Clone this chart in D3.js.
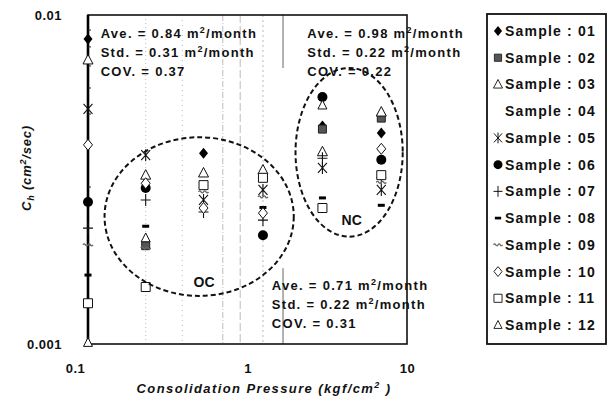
<!DOCTYPE html>
<html>
<head>
<meta charset="utf-8">
<script src="https://cdn.jsdelivr.net/npm/d3@7"></script>
<style>
  body { margin: 0; background: #fff; }
  svg text { font-family: "Liberation Sans", Arial, sans-serif; font-weight: bold; fill: #111; }
</style>
</head>
<body>
<div class="chart"></div>
<script>
// data
var pressures = [0.1, 0.23, 0.53, 1.25, 2.95, 6.9];
var sampleNames = ["01", "02", "03", "04", "05", "06", "07", "08", "09", "10", "11", "12"];
var markerTypes = ["diamondFill", "hatchSquare", "triangle", "none", "asterisk", "circleFill",
                   "plus", "dash", "wave", "diamond", "square", "triangleSmall"];
var s01 = [0.00845, null, 0.0038, null, 0.0046, 0.00438];
var s02 = [null, 0.00199, null, null, 0.0045, 0.00486];
var s03 = [0.0073, 0.00326, 0.00331, 0.00338, 0.00384, 0.00507];
var s04 = [null, null, null, null, null, null];
var s05 = [0.00518, 0.00375, 0.00274, 0.00294, 0.00343, 0.00294];
var s06 = [0.0027, 0.00298, null, 0.00214, 0.00563, 0.00363];
var s07 = [0.00225, 0.00274, 0.00252, 0.00238, 0.00367, 0.0032];
var s08 = [0.00162, 0.00228, null, 0.0026, 0.00278, 0.00264];
var s09 = [0.002, 0.00196, 0.0029, 0.0028, null, 0.0031];
var s10 = [0.00403, 0.00308, 0.00259, 0.0025, null, 0.00392];
var s11 = [0.00133, 0.00149, 0.00304, 0.0032, 0.00259, 0.00326];
var s12 = [0.00101, 0.0021, null, null, 0.00532, null];
var series = [s01, s02, s03, s04, s05, s06, s07, s08, s09, s10, s11, s12];

var xTicks = [0.1, 1, 10];
var yTicks = [0.001, 0.01];

// faint vertical lines of the scanned figure
var guideLines = [0.23, 0.39, 0.70, 0.90, 1.25];

// cluster outlines (data units)
var ocBox = {x0: 0.127, x1: 1.95, y0: 0.0014, y1: 0.00425};
var ncBox = {x0: 2.0, x1: 9.4, y0: 0.00212, y1: 0.0069};

var notes = [
  {x: 0.12, y: 0.00851, lines: [["Ave. = 0.84 ", "/month"], ["Std. = 0.31 ", "/month"], ["COV. = 0.37"]]},
  {x: 2.37, y: 0.00851, lines: [["Ave. = 0.98 ", "/month"], ["Std. = 0.22 ", "/month"], ["COV. = 0.22"]]},
  {x: 1.42, y: 0.00146, lines: [["Ave. = 0.71 ", "/month"], ["Std. = 0.22 ", "/month"], ["COV. = 0.31"]]}
];

var width = 612, height = 401;
var svg = d3.select("div.chart").append("svg")
    .attr("width", width)
    .attr("height", height);

var x = d3.scaleLog().domain([0.1, 10]).range([88, 407]);
var y = d3.scaleLog().domain([0.001, 0.01]).range([344, 15]);

// guide lines
svg.selectAll("line.guide")
    .data(guideLines)
    .enter().append("line")
    .attr("class", "guide")
    .attr("x1", function (d) { return x(d); })
    .attr("x2", function (d) { return x(d); })
    .attr("y1", y(0.01))
    .attr("y2", y(0.001))
    .style("stroke", "#aaa")
    .style("stroke-width", 0.8)
    .style("stroke-dasharray", function (d, i) { return ["1,3", "1,4", "6,2,1,2", "8,3", "2,3"][i]; });

// partial solid line near 1.67
[[0.01, 0.0069], [0.0017, 0.001]].forEach(function (seg) {
    svg.append("line")
        .attr("x1", x(1.67)).attr("x2", x(1.67))
        .attr("y1", y(seg[0])).attr("y2", y(seg[1]))
        .style("stroke", "#555").style("stroke-width", 0.9);
});

// frame
svg.append("rect")
    .attr("x", x(0.1)).attr("y", y(0.01))
    .attr("width", x(10) - x(0.1)).attr("height", y(0.001) - y(0.01))
    .style("fill", "none").style("stroke", "#111").style("stroke-width", 1.6);
svg.append("line")
    .attr("x1", x(0.1)).attr("x2", x(0.1))
    .attr("y1", y(0.01)).attr("y2", y(0.001))
    .style("stroke", "#000").style("stroke-width", 2.6);

// axes (labels only, like the figure)
var xAxis = svg.append("g")
    .attr("transform", "translate(0," + (y(0.001) + 17) + ")")
    .call(d3.axisBottom(x).tickValues(xTicks).tickSize(0).tickFormat(d3.format("")));
xAxis.select(".domain").remove();
xAxis.selectAll("text")
    .attr("dx", function (d) { return d === 0.1 ? -13 : 0; })
    .style("font-size", "13px").style("letter-spacing", "0.5px")
    .style("font-family", "Liberation Sans, Arial, sans-serif").style("font-weight", "bold");

var yAxis = svg.append("g")
    .attr("transform", "translate(" + (x(0.1) - 26) + ",0)")
    .call(d3.axisLeft(y).tickValues(yTicks).tickSize(0).tickFormat(function (d) { return String(d); }));
yAxis.select(".domain").remove();
yAxis.selectAll("text")
    .attr("x", 0)
    .style("font-size", "13px").style("letter-spacing", "0.5px")
    .style("font-family", "Liberation Sans, Arial, sans-serif").style("font-weight", "bold");

// small inner ticks on left axis
svg.selectAll("line.ytick")
    .data([0.002, 0.003, 0.004, 0.005, 0.006, 0.007, 0.008, 0.009])
    .enter().append("line")
    .attr("x1", x(0.1)).attr("x2", x(0.1) + 3)
    .attr("y1", function (d) { return y(d); }).attr("y2", function (d) { return y(d); })
    .style("stroke", "#222").style("stroke-width", 1);

// axis titles
var xt = svg.append("text")
    .attr("x", 264).attr("y", 393)
    .attr("text-anchor", "middle")
    .style("font-size", "13px").style("font-style", "italic").style("letter-spacing", "1.4px");
xt.append("tspan").text("Consolidation Pressure (kgf/cm");
xt.append("tspan").attr("dy", -5).style("font-size", "9px").text("2");
xt.append("tspan").attr("dy", 5).text(" )");

var yt = svg.append("text")
    .attr("transform", "translate(31,168) rotate(-90)")
    .attr("text-anchor", "middle")
    .style("font-size", "13px").style("font-style", "italic").style("letter-spacing", "0.8px");
yt.append("tspan").text("C");
yt.append("tspan").attr("dy", 3).style("font-size", "9px").text("h");
yt.append("tspan").attr("dy", -3).text("  (cm");
yt.append("tspan").attr("dy", -5).style("font-size", "9px").text("2");
yt.append("tspan").attr("dy", 5).text("/sec)");

// markers
function markerPath(type) {
    switch (type) {
        case "diamondFill":
        case "diamond": return "M0,-5.5L4.5,0L0,5.5L-4.5,0Z";
        case "hatchSquare": return "M-4,-4H4V4H-4Z";
        case "square": return "M-4.5,-4.5H4.5V4.5H-4.5Z";
        case "triangle": return "M0,-5.5L5,4L-5,4Z";
        case "triangleSmall": return "M0,-5L4.5,3.8L-4.5,3.8Z";
        case "asterisk": return "M-4.5,-5L4.5,5M4.5,-5L-4.5,5M0,-6V6";
        case "plus": return "M-5,0H5M0,-6V6";
        case "wave": return "M-5,0q1.25,-2 2.5,0t2.5,0t2.5,0t2.5,0";
        default: return "";
    }
}

function drawMarker(g, type) {
    if (type === "none") return;
    if (type === "circleFill") {
        g.append("circle").attr("r", 5).style("fill", "#000");
        return;
    }
    if (type === "dash") {
        g.append("rect").attr("x", -3.5).attr("y", -1.5).attr("width", 7).attr("height", 3).style("fill", "#000");
        return;
    }
    var p = g.append("path").attr("d", markerPath(type));
    if (type === "diamondFill") p.style("fill", "#000");
    else if (type === "hatchSquare") p.style("fill", "#555").style("stroke", "#222").style("stroke-width", 1);
    else if (type === "asterisk" || type === "plus") p.style("fill", "none").style("stroke", "#111").style("stroke-width", 1.1);
    else if (type === "wave") p.style("fill", "none").style("stroke", "#666").style("stroke-width", 1.3);
    else p.style("fill", "#fff").style("stroke", "#111").style("stroke-width", 1);
}

var points = [];
series.forEach(function (vals, si) {
    vals.forEach(function (v, pi) {
        if (v !== null) points.push({s: si, p: pressures[pi], v: v});
    });
});

var pts = svg.selectAll("g.pt")
    .data(points)
    .enter().append("g")
    .attr("class", "pt")
    .attr("transform", function (d) { return "translate(" + x(d.p) + "," + y(d.v) + ")"; });
pts.each(function (d) { drawMarker(d3.select(this), markerTypes[d.s]); });

// cluster ellipses
[ocBox, ncBox].forEach(function (b) {
    svg.append("ellipse")
        .attr("cx", (x(b.x0) + x(b.x1)) / 2)
        .attr("cy", (y(b.y0) + y(b.y1)) / 2)
        .attr("rx", (x(b.x1) - x(b.x0)) / 2)
        .attr("ry", (y(b.y0) - y(b.y1)) / 2)
        .style("fill", "none").style("stroke", "#111")
        .style("stroke-width", 2).style("stroke-dasharray", "5,3");
});

svg.append("text").attr("x", x(0.534)).attr("y", y(0.00149))
    .attr("text-anchor", "middle").style("font-size", "14px").text("OC");
svg.append("text").attr("x", x(4.5)).attr("y", y(0.0023))
    .attr("text-anchor", "middle").style("font-size", "14px").text("NC");

// statistics notes
notes.forEach(function (n) {
    n.lines.forEach(function (parts, i) {
        var t = svg.append("text")
            .attr("x", x(n.x))
            .attr("y", y(n.y) + i * 19)
            .style("font-size", "13px").style("letter-spacing", "1.3px");
        t.append("tspan").text(parts[0]);
        if (parts.length > 1) {
            t.append("tspan").text("m");
            t.append("tspan").attr("dy", -5).style("font-size", "9px").text("2");
            t.append("tspan").attr("dy", 5).text(parts[1]);
        }
    });
});

// legend
var legend = svg.append("g");
legend.append("rect")
    .attr("x", 487).attr("y", 14).attr("width", 119).attr("height", 330)
    .style("fill", "#fff").style("stroke", "#111").style("stroke-width", 1.8);

var legendY = d3.scalePoint().domain(sampleNames).range([31, 325]);
var items = legend.selectAll("g.item")
    .data(sampleNames)
    .enter().append("g")
    .attr("class", "item")
    .attr("transform", function (d) { return "translate(0," + legendY(d) + ")"; });
items.each(function (d, i) {
    var m = d3.select(this).append("g").attr("transform", "translate(498,0) scale(0.9)");
    drawMarker(m, markerTypes[i]);
});
items.append("text")
    .attr("x", 505).attr("y", 5)
    .style("font-size", "14px").style("letter-spacing", "1.2px")
    .text(function (d) { return "Sample : " + d; });
</script>
</body>
</html>
